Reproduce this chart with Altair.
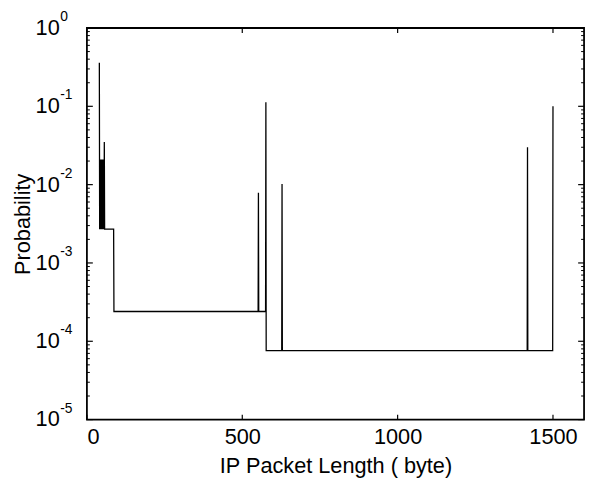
import altair as alt
import pandas as pd

# IP packet length (bytes) and probability
lengths = [40, 41, 42, 43, 44, 45, 46, 47, 48, 49, 50, 51, 52, 53, 54, 55, 56, 57,
           86, 87, 551, 552, 553, 575, 576, 577, 627, 628, 629, 1417, 1418, 1419, 1499, 1500]
probs = [0.36, 0.0027, 0.021, 0.0027, 0.02, 0.0027, 0.021, 0.0027, 0.019, 0.0027,
         0.021, 0.0027, 0.02, 0.0027, 0.021, 0.0027, 0.035, 0.0027,
         0.0027, 0.00024, 0.00024, 0.0079, 0.00024, 0.00024, 0.113, 0.000076,
         0.000076, 0.0102, 0.000076, 0.000076, 0.030, 0.000076, 0.000076, 0.10]

# axis furniture
x_ticks = [0, 500, 1000, 1500]
y_decades = [1, 0.1, 0.01, 0.001, 0.0001, 0.00001]
y_exponents = ["0", "-1", "-2", "-3", "-4", "-5"]
y_minor = [m * d for d in [0.1, 0.01, 0.001, 0.0001, 0.00001] for m in range(2, 10)]

W, H = 504, 397
FONT = "Liberation Sans"

xscale = alt.Scale(domain=[0, 1600], nice=False, zero=False)
yscale = alt.Scale(type="log", domain=[1e-5, 1], nice=False)

df = pd.DataFrame({"length": lengths, "prob": probs})
dec = pd.DataFrame({"v": y_decades, "e": y_exponents})
minor = pd.DataFrame({"v": y_minor})
xt = pd.DataFrame({"x": x_ticks})

line = alt.Chart(df).mark_line(color="black", strokeWidth=1.3, clip=True).encode(
    x=alt.X("length:Q", scale=xscale,
            axis=alt.Axis(values=x_ticks, format="d", title="IP Packet Length ( byte)",
                          ticks=False, domain=False, grid=False, labelFontSize=22,
                          labelPadding=7, titleFontSize=22, titlePadding=9,
                          titleFontWeight="normal", labelColor="black", titleColor="black")),
    y=alt.Y("prob:Q", scale=yscale,
            axis=alt.Axis(labels=False, ticks=False, domain=False, grid=False,
                          title="Probability", titleFontSize=22, titlePadding=53,
                          titleFontWeight="normal", titleColor="black")),
)

ymaj_l = alt.Chart(dec).mark_rule(color="black", strokeWidth=1.2).encode(
    y=alt.Y("v:Q", scale=yscale, axis=None), x=alt.value(0), x2=alt.value(6))
ymaj_r = alt.Chart(dec).mark_rule(color="black", strokeWidth=1.2).encode(
    y=alt.Y("v:Q", scale=yscale, axis=None), x=alt.value(W), x2=alt.value(W - 6))
ymin_l = alt.Chart(minor).mark_rule(color="black", strokeWidth=1).encode(
    y=alt.Y("v:Q", scale=yscale, axis=None), x=alt.value(0), x2=alt.value(3))
ymin_r = alt.Chart(minor).mark_rule(color="black", strokeWidth=1).encode(
    y=alt.Y("v:Q", scale=yscale, axis=None), x=alt.value(W), x2=alt.value(W - 3))
xt_b = alt.Chart(xt).mark_rule(color="black", strokeWidth=1.2).encode(
    x=alt.X("x:Q", scale=xscale, axis=None), y=alt.value(H), y2=alt.value(H - 5))
xt_t = alt.Chart(xt).mark_rule(color="black", strokeWidth=1.2).encode(
    x=alt.X("x:Q", scale=xscale, axis=None), y=alt.value(0), y2=alt.value(5))

base10 = alt.Chart(dec).mark_text(align="left", baseline="middle", fontSize=22,
                                  font=FONT, color="black").encode(
    y=alt.Y("v:Q", scale=yscale, axis=None), x=alt.value(-52), text=alt.value("10"))
expo = alt.Chart(dec).mark_text(align="left", baseline="middle", fontSize=14,
                                font=FONT, color="black", dy=-11).encode(
    y=alt.Y("v:Q", scale=yscale, axis=None), x=alt.value(-27), text="e:N")

chart = alt.layer(line, ymaj_l, ymaj_r, ymin_l, ymin_r, xt_b, xt_t, base10, expo).resolve_axis(
    x="independent", y="independent"
).properties(
    width=W, height=H,
    autosize=alt.AutoSizeParams(type="none"),
    padding={"left": 80, "top": 17, "right": 4, "bottom": 60},
).configure(font=FONT).configure_view(stroke="black", strokeWidth=1.8)

chart.save("out.html", embed_options={"renderer": "svg", "actions": False})
